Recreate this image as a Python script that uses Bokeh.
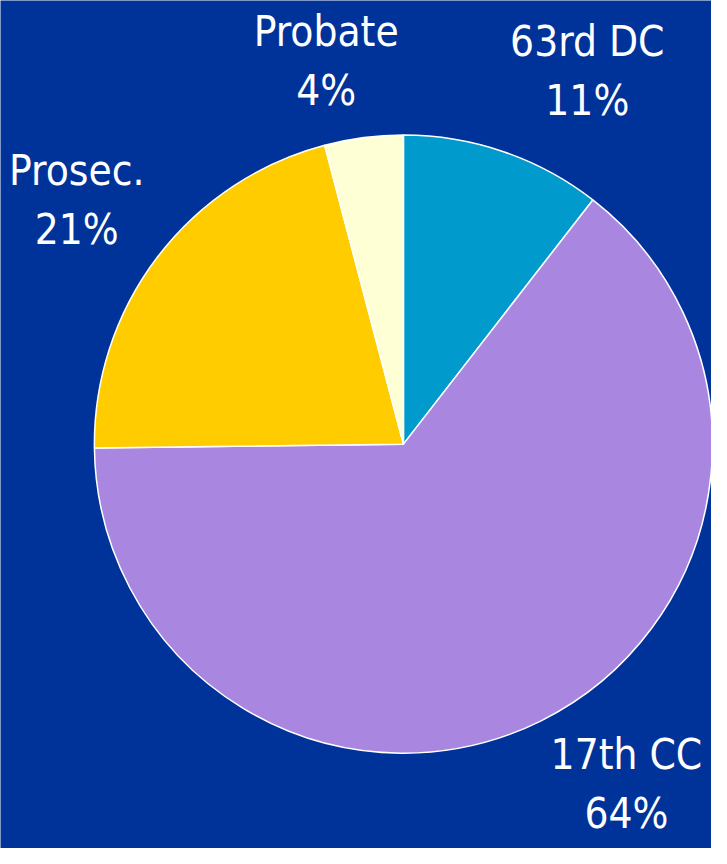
import numpy as np
from bokeh.plotting import figure
from bokeh.models import ColumnDataSource, Range1d
from bokeh.core.properties import value
from bokeh.embed import file_html
from bokeh.resources import INLINE

categories = ["63rd DC", "17th CC", "Prosec.", "Probate"]
shares = [10.5, 64.3, 21.1, 4.1]
pct_labels = ["11%", "64%", "21%", "4%"]
colors = ["#009ACC", "#A987E0", "#FFCC00", "#FFFFD5"]

W, H = 711, 848
IW, IH = 727, 864
p = figure(width=W, height=H, output_backend="svg", toolbar_location=None,
           x_range=Range1d(0, IW), y_range=Range1d(0, IH), min_border=0,
           background_fill_color="#003399", border_fill_color="#003399",
           outline_line_color=None)
p.axis.visible = False
p.grid.visible = False

frac = np.array(shares) / np.sum(shares)
cum = np.concatenate([[0], np.cumsum(frac)]) * 2 * np.pi
start = np.pi / 2 - cum[:-1]
end = np.pi / 2 - cum[1:]
cx, cy, r = 412, IH - 452, 316
src = ColumnDataSource(dict(start=start, end=end, color=colors, cat=categories))
p.wedge(x=cx, y=cy, radius=r, start_angle="start", end_angle="end",
        direction="clock", fill_color="color", line_color="white",
        line_width=1.5, source=src)

# label anchor points (image px): center x, baseline of first line
lab_x = [600, 640, 78, 333]
lab_y1 = [42, 768, 173, 32]
line_gap = 60
font = value("DejaVu Sans Condensed")
p.text(x=lab_x, y=[IH - v for v in lab_y1], text=categories,
       text_font=font, text_font_size="42px", text_color="white",
       text_align="center", text_baseline="alphabetic")
p.text(x=lab_x, y=[IH - v - line_gap for v in lab_y1], text=pct_labels,
       text_font=font, text_font_size="42px", text_color="white",
       text_align="center", text_baseline="alphabetic")

open("out.html", "w").write(file_html(p, INLINE))
